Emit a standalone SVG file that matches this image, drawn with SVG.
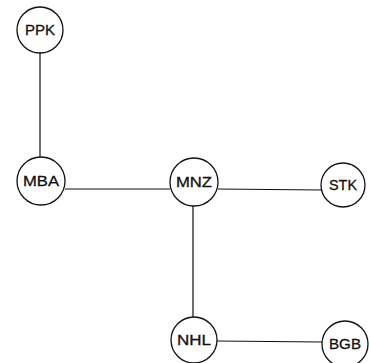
<svg xmlns="http://www.w3.org/2000/svg" width="370" height="363" viewBox="0 0 370 363">
<style>
.n circle{fill:#fff;stroke:#111;stroke-width:1.3}
.n text{font-family:"Liberation Sans",Arial,sans-serif;font-size:14px;fill:#111;text-anchor:middle;stroke:#111;stroke-width:0.3}
#edges line{stroke:#111;stroke-width:1.2}
</style>
<rect width="370" height="363" fill="#fff"/>
<g id="edges">
<line x1="40" y1="53" x2="40" y2="158"/>
<line x1="65" y1="189" x2="170" y2="189"/>
<line x1="218" y1="189" x2="322" y2="190"/>
<line x1="193" y1="205" x2="193" y2="317"/>
<line x1="217" y1="341" x2="322" y2="342"/>
</g>
<g id="PPK" class="n"><circle cx="40" cy="30" r="23"/><text x="40" y="35" textLength="30" lengthAdjust="spacingAndGlyphs">PPK</text></g>
<g id="MBA" class="n"><circle cx="41" cy="181" r="24"/><text x="41" y="186" textLength="36" lengthAdjust="spacingAndGlyphs">MBA</text></g>
<g id="MNZ" class="n"><circle cx="194" cy="182" r="24"/><text x="194" y="187" textLength="36" lengthAdjust="spacingAndGlyphs">MNZ</text></g>
<g id="STK" class="n"><circle cx="343" cy="185" r="22"/><text x="343" y="190" textLength="28" lengthAdjust="spacingAndGlyphs">STK</text></g>
<g id="NHL" class="n"><circle cx="194" cy="340" r="23"/><text x="194" y="345" textLength="34" lengthAdjust="spacingAndGlyphs">NHL</text></g>
<g id="BGB" class="n"><circle cx="345" cy="344" r="23"/><text x="345" y="349" textLength="32" lengthAdjust="spacingAndGlyphs">BGB</text></g>
</svg>
